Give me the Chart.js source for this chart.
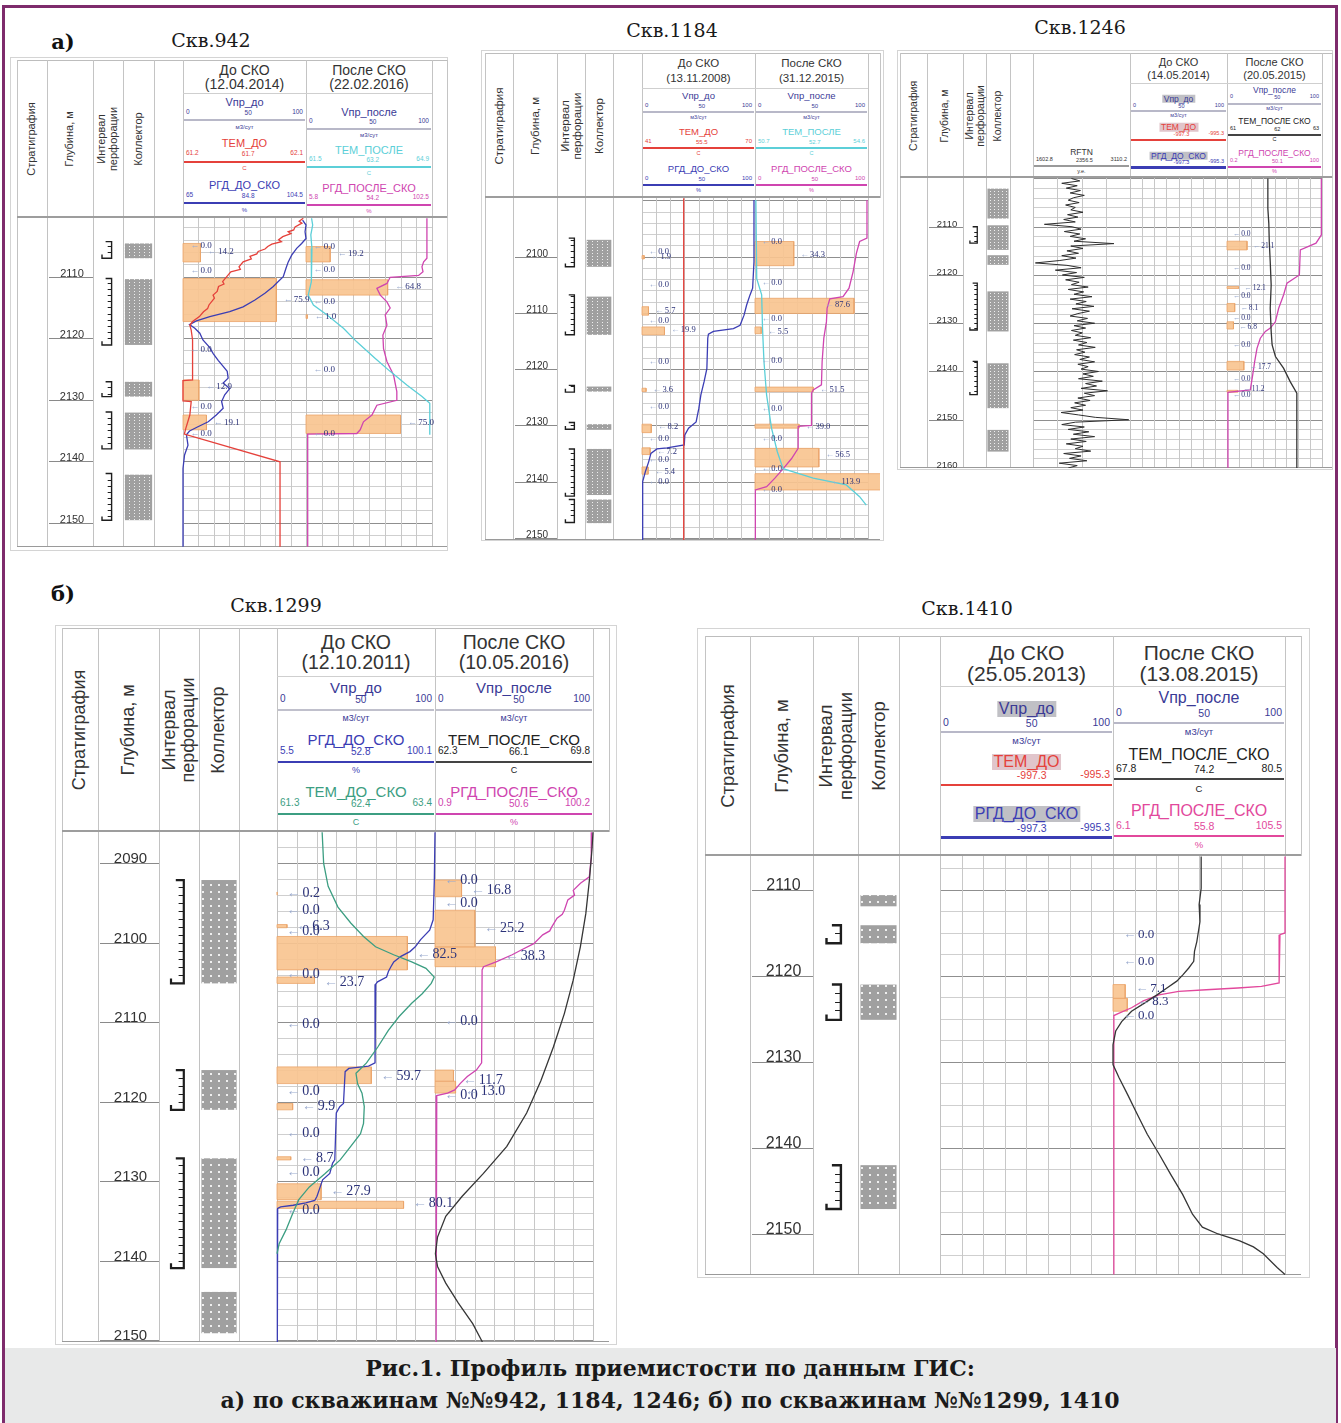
<!DOCTYPE html>
<html lang="ru">
<head>
<meta charset="utf-8">
<title>Профиль приемистости по данным ГИС</title>
<script src="https://cdn.jsdelivr.net/npm/chart.js@4.4.0/dist/chart.umd.min.js"></script>
<style>
html,body{margin:0;padding:0;background:#fff;}
#page{position:relative;width:1341px;height:1423px;overflow:hidden;font-family:"Liberation Sans",Arial,sans-serif;background:#fff;}
</style>
</head>
<body>
<div id="page"></div>
<script>
// ---------- scale ranges (curve header scales) ----------
const vprRange = [0, 100];
const w942TemDoRange = [61.2, 62.1];
const w942RgdDoRange = [65, 104.5];
const w942TemPosleRange = [61.5, 64.9];
const w942RgdPosleRange = [5.8, 102.5];
const w1184TemDoRange = [41, 70];
const w1184RgdDoRange = [0, 100];
const w1184TemPosleRange = [50.7, 54.6];
const w1184RgdPosleRange = [0, 100];
const w1246RftnRange = [1602.8, 3110.2];
const w1246TemPosleRange = [61, 63];
const w1246RgdPosleRange = [0.2, 100];
const w1299RgdDoRange = [5.5, 100.1];
const w1299TemDoRange = [61.3, 63.4];
const w1299TemPosleRange = [62.3, 69.8];
const w1299RgdPosleRange = [0.9, 100.2];
const w1410TemPosleRange = [67.8, 80.5];
const w1410RgdPosleRange = [6.1, 105.5];
const emptyTicks = ['', '-997.3', '-995.3'];

// ---------- Скв.942 ----------
const w942DepthTicks = [2110, 2120, 2130, 2140, 2150];
const w942Perf = [[2104.3,2107.0],[2110.3,2121.1],[2127.1,2129.5],[2132.0,2138.0],[2142.0,2149.6]];
const w942Coll = [[2104.6,2107.0],[2110.4,2121.1],[2127.1,2129.5],[2132.1,2138.1],[2142.2,2149.6]];
const w942TemDo = [[2100.5,62.08],[2101.0,62.05],[2101.3,62.07],[2101.9,62.02],[2102.4,62.01],[2102.7,61.97],[2103.0,61.99],[2103.5,61.93],[2104.0,61.90],[2104.3,61.92],[2104.7,61.85],[2105.1,61.82],[2105.5,61.80],[2105.9,61.75],[2106.3,61.74],[2106.7,61.69],[2107.1,61.70],[2107.6,61.64],[2108.4,61.61],[2108.8,61.62],[2109.2,61.55],[2110.0,61.52],[2110.8,61.49],[2111.2,61.50],[2111.6,61.46],[2112.4,61.45],[2113.0,61.42],[2113.5,61.43],[2114.6,61.39],[2115.2,61.38],[2115.7,61.35],[2116.5,61.32],[2117.3,61.27],[2117.9,61.25],[2118.7,61.26],[2120.3,61.27],[2126.8,61.27],[2126.9,61.20],[2130.2,61.20],[2130.3,61.26],[2132.5,61.25],[2134.7,61.22],[2135.6,61.21],[2140.1,61.91],[2153.9,61.91]];
const w942RgdDo = [[2100.8,103.4],[2101.6,104.5],[2102.7,104.2],[2103.8,104.5],[2104.6,103.1],[2105.4,101.5],[2106.5,99.9],[2107.6,98.8],[2108.6,98.1],[2110.0,97.2],[2110.8,95.6],[2111.6,94.0],[2112.7,91.3],[2113.8,88.1],[2114.9,84.3],[2115.7,80.0],[2116.5,73.6],[2117.2,69.3],[2117.8,67.1],[2118.4,68.8],[2119.2,70.4],[2120.3,71.4],[2121.4,73.4],[2122.5,74.7],[2123.6,76.3],[2124.6,77.9],[2125.4,79.2],[2126.5,79.5],[2127.3,77.9],[2128.2,80.0],[2129.2,78.4],[2130.3,77.4],[2131.4,77.9],[2132.5,75.7],[2133.6,73.1],[2134.4,69.8],[2135.1,67.1],[2135.7,66.1],[2137.4,66.6],[2139.0,65.5],[2141.2,65.0],[2153.9,65.0]];
const w942BarsDo = [[2104.6,2107.6,14.2],[2110.3,2117.3,75.9],[2126.8,2130.1,12.9],[2132.5,2134.9,19.1]];
const w942LabelsDo = [[2105.0,0.0],[2106.0,14.2],[2109.1,0.0],[2113.8,75.9],[2121.9,0.0],[2127.9,12.9],[2131.1,0.0],[2133.8,19.1],[2135.5,0.0]];
const w942TemPosle = [[2100.5,61.65],[2101.6,61.68],[2103.2,61.63],[2105.4,61.66],[2108.1,61.65],[2110.8,61.64],[2113.0,61.56],[2114.6,61.70],[2116.2,62.06],[2118.4,62.51],[2120.6,62.87],[2123.3,63.37],[2125.4,63.77],[2127.6,64.22],[2129.5,64.63],[2130.6,64.84],[2135.7,64.84]];
const w942RgdPosle = [[2100.5,98.6],[2107.0,98.6],[2107.6,96.1],[2108.4,94.8],[2109.2,95.6],[2109.8,92.2],[2110.1,70.4],[2111.1,67.9],[2111.9,60.2],[2113.0,62.8],[2114.1,67.9],[2115.1,70.4],[2116.2,66.6],[2117.9,67.9],[2119.5,64.8],[2121.7,65.3],[2123.8,67.9],[2126.0,73.0],[2128.7,75.5],[2130.1,75.5],[2130.9,60.2],[2132.5,56.4],[2133.6,49.9],[2134.9,47.4],[2135.5,44.8],[2135.6,7.1],[2153.9,7.1]];
const w942BarsPosle = [[2105.1,2107.6,19.2],[2110.5,2113.0,64.8],[2116.2,2116.8,1.0],[2132.5,2135.5,75.0]];
const w942LabelsPosle = [[2105.1,0.0],[2106.2,19.2],[2108.9,0.0],[2111.6,64.8],[2114.1,0.0],[2116.5,1.0],[2125.2,0.0],[2133.8,75.0],[2135.5,0.0]];

// ---------- Скв.1184 ----------
const w1184DepthTicks = [2100, 2110, 2120, 2130, 2140, 2150];
const w1184Perf = [[2096.7,2101.8],[2106.8,2113.9],[2122.9,2124.1],[2129.5,2130.7],[2134.2,2142.6],[2143.2,2147.3]];
const w1184Coll = [[2097.0,2101.8],[2107.1,2113.9],[2123.1,2124.0],[2129.8,2130.8],[2134.2,2142.4],[2143.2,2147.4]];
const w1184TemDo = [[2089.6,51.7],[2150.4,51.7]];
const w1184RgdDo = [[2089.9,99.1],[2100.9,99.1],[2105.6,97.9],[2106.8,95.6],[2108.6,92.6],[2110.4,90.3],[2112.2,86.8],[2112.8,80.9],[2113.3,63.2],[2113.8,58.8],[2114.5,58.2],[2119.9,57.4],[2122.2,55.0],[2124.6,52.1],[2127.0,50.3],[2129.4,47.9],[2130.5,41.2],[2131.7,37.9],[2133.5,37.4],[2134.0,22.1],[2134.2,13.2],[2135.0,7.9],[2136.5,5.9],[2138.3,2.9],[2140.0,0.6],[2150.4,0.6]];
const w1184BarsDo = [[2099.8,2100.4,1.9],[2108.9,2110.4,5.7],[2112.5,2113.9,19.9],[2123.4,2124.0,3.6],[2129.8,2131.3,8.2],[2134.0,2135.2,7.2],[2137.4,2138.7,5.4]];
const w1184LabelsDo = [[2099.2,0.0],[2100.1,1.9],[2105.0,0.0],[2109.7,5.7],[2111.4,0.0],[2113.0,19.9],[2118.7,0.0],[2123.7,3.6],[2126.7,0.0],[2130.2,8.2],[2132.4,0.0],[2134.7,7.2],[2136.2,0.0],[2138.3,5.4],[2140.0,0.0]];
const w1184TemPosle = [[2089.9,50.73],[2103.9,50.76],[2106.8,50.93],[2112.8,50.96],[2118.7,51.01],[2124.6,51.10],[2130.5,51.27],[2134.7,51.47],[2137.7,51.67],[2139.4,52.71],[2140.6,53.85],[2142.7,54.31],[2144.2,54.54]];
const w1184RgdPosle = [[2089.9,99.1],[2096.7,99.1],[2097.3,92.6],[2099.4,89.7],[2102.7,86.8],[2105.6,83.2],[2107.1,77.9],[2107.5,66.2],[2109.2,63.8],[2111.6,63.2],[2114.5,60.9],[2118.7,59.4],[2122.8,58.8],[2123.7,51.5],[2124.3,50.0],[2130.0,50.0],[2130.2,38.2],[2134.1,38.2],[2135.9,32.4],[2137.7,25.0],[2139.4,17.6],[2140.9,10.3],[2141.5,0.3],[2150.4,0.3]];
const w1184BarsPosle = [[2097.3,2101.6,34.3],[2107.4,2110.1,87.6],[2112.5,2113.7,5.5],[2123.2,2124.0,51.5],[2129.8,2130.5,39.0],[2134.1,2137.4,56.5],[2138.6,2141.5,113.9]];
const w1184LabelsPosle = [[2097.3,0.0],[2099.7,34.3],[2104.6,0.0],[2108.6,87.6],[2111.1,0.0],[2113.3,5.5],[2118.6,0.0],[2123.7,51.5],[2127.0,0.0],[2130.2,39.0],[2132.4,0.0],[2135.3,56.5],[2137.8,0.0],[2140.0,113.9],[2141.5,0.0]];

// ---------- Скв.1246 ----------
const w1246DepthTicks = [2110, 2120, 2130, 2140, 2150, 2160];
const w1246Perf = [[2110.0,2113.4],[2121.7,2131.4],[2137.9,2144.8]];
const w1246Coll = [[2102.1,2108.3],[2109.7,2114.8],[2115.9,2117.9],[2123.4,2131.7],[2138.3,2147.6],[2152.1,2156.6]];
const w1246Rftn = [
[2100.0,2200],[2100.5,2330],[2101.0,2050],[2101.5,2290],[2102.0,2120],[2102.5,2340],[2103.0,2180],[2103.5,2400],[2104.0,2230],[2104.5,2150],
[2105.0,2320],[2105.5,2110],[2106.0,2260],[2106.5,2190],[2107.0,2380],[2107.5,2140],[2108.0,2300],[2108.5,2080],[2109.0,2260],[2109.5,1780],
[2110.0,2210],[2110.5,2350],[2111.0,2090],[2111.5,2330],[2112.0,2180],[2112.5,2420],[2113.0,2240],[2113.5,2860],[2114.0,2190],[2114.5,2380],
[2115.0,2130],[2115.5,2310],[2116.0,2050],[2116.5,2270],[2117.0,2020],[2117.5,1640],[2118.0,2130],[2118.5,2350],[2119.0,1950],[2119.5,2280],
[2120.0,2060],[2120.5,2400],[2121.0,2110],[2121.5,2320],[2122.0,2200],[2122.5,2460],[2123.0,2150],[2123.5,2390],[2124.0,2240],[2124.5,2520],
[2125.0,2180],[2125.5,2430],[2126.0,2270],[2126.5,2550],[2127.0,2210],[2127.5,2480],[2128.0,2300],[2128.5,2180],[2129.0,2450],[2129.5,2290],
[2130.0,2560],[2130.5,2240],[2131.0,2420],[2131.5,2200],[2132.0,2370],[2132.5,2260],[2133.0,2500],[2133.5,2230],[2134.0,2440],[2134.5,2310],
[2135.0,2570],[2135.5,2280],[2136.0,2410],[2136.5,2250],[2137.0,2480],[2137.5,2330],[2138.0,2560],[2138.5,2300],[2139.0,2460],[2139.5,2350],
[2140.0,2620],[2140.5,2380],[2141.0,2540],[2141.5,2310],[2142.0,2680],[2142.5,2420],[2143.0,2590],[2143.5,2350],[2144.0,2760],[2144.5,2400],
[2145.0,2560],[2145.5,2300],[2146.0,2490],[2146.5,2250],[2147.0,2420],[2147.5,2190],[2148.0,2380],[2148.5,2040],[2149.0,2310],[2149.5,2570],
[2150.0,3090],[2150.5,2260],[2151.0,2050],[2151.5,2400],[2152.0,2150],[2152.5,2470],[2153.0,2230],[2153.5,2560],[2154.0,2190],[2154.5,2430],
[2155.0,2120],[2155.5,2380],[2156.0,2260],[2156.5,2500],[2157.0,2080],[2157.5,2350],[2158.0,2170],[2158.5,2440],[2159.0,2010],[2159.5,2290],
[2160.0,2150]];
const w1246TemPosle = [[2100.0,61.86],[2106.2,61.86],[2109.3,61.88],[2113.1,61.89],[2117.2,61.91],[2122.1,61.93],[2126.9,61.91],[2131.7,61.93],[2134.5,61.95],[2136.9,62.02],[2139.3,62.19],[2142.1,62.33],[2144.5,62.47],[2160.0,62.47]];
const w1246RgdPosle = [[2100.0,99.3],[2111.7,99.3],[2113.4,93.7],[2114.8,77.2],[2120.0,76.2],[2121.7,63.2],[2124.1,59.7],[2126.9,54.5],[2129.7,51.0],[2131.0,45.7],[2131.7,40.5],[2133.1,35.2],[2135.2,31.7],[2137.9,29.3],[2140.7,27.2],[2143.8,24.7],[2144.3,1.2],[2160.0,1.2]];
const w1246BarsPosle = [[2113.0,2114.8,21.1],[2122.4,2122.8,12.1],[2125.9,2127.6,8.1],[2129.7,2131.2,6.8],[2137.9,2139.7,17.7],[2143.9,2144.3,11.2]];
const w1246LabelsPosle = [[2111.5,0.0],[2114.1,21.1],[2118.6,0.0],[2122.6,12.1],[2124.3,0.0],[2126.9,8.1],[2129.0,0.0],[2130.7,6.8],[2134.5,0.0],[2139.0,17.7],[2141.5,0.0],[2144.9,0.0],[2143.7,11.2]];

// ---------- Скв.1299 ----------
const w1299DepthTicks = [2090, 2100, 2110, 2120, 2130, 2140, 2150];
const w1299Perf = [[2092.1,2105.1],[2116.0,2121.0],[2127.1,2140.9]];
const w1299Coll = [[2092.1,2105.1],[2116.0,2121.0],[2127.1,2140.9],[2143.9,2149.1]];
const w1299RgdDo = [[2086.1,100.1],[2092.1,99.7],[2097.1,99.0],[2098.4,96.9],[2099.6,91.5],[2100.5,88.3],[2101.1,85.1],[2101.7,79.7],[2102.4,75.4],[2103.0,73.7],[2103.6,72.2],[2104.3,71.1],[2104.9,65.7],[2105.2,64.6],[2115.1,64.2],[2115.5,60.3],[2115.8,48.5],[2116.2,46.3],[2120.2,45.3],[2120.6,43.1],[2121.4,41.0],[2127.3,40.1],[2127.7,38.8],[2129.0,37.1],[2129.8,32.8],[2131.1,30.7],[2131.9,29.4],[2132.4,28.1],[2132.7,22.7],[2133.0,15.2],[2133.2,7.7],[2133.4,5.9],[2150.2,5.7]];
const w1299TemDo = [[2086.1,61.90],[2090.0,61.92],[2092.9,61.98],[2095.5,62.11],[2097.5,62.28],[2099.2,62.45],[2100.5,62.61],[2101.5,62.85],[2102.4,63.09],[2103.2,63.28],[2104.3,63.39],[2105.1,63.35],[2106.4,63.23],[2107.6,63.09],[2109.3,62.92],[2111.0,62.78],[2113.1,62.64],[2115.1,62.49],[2116.4,62.35],[2117.7,62.37],[2118.9,62.43],[2120.6,62.46],[2122.7,62.45],[2124.0,62.41],[2125.6,62.28],[2127.3,62.14],[2129.0,61.94],[2130.7,61.73],[2132.3,61.59],[2134.0,61.51],[2136.1,61.42],[2137.8,61.33],[2139.1,61.30]];
const w1299BarsDo = [[2093.6,2094.0,0.2],[2097.7,2098.1,6.3],[2099.2,2103.4,82.5],[2104.3,2105.1,23.7],[2115.6,2117.7,59.7],[2120.2,2121.0,9.9],[2126.9,2127.3,8.7],[2130.3,2132.3,27.9],[2132.5,2133.4,80.1]];
const w1299LabelsDo = [[2093.8,0.2],[2095.9,0.0],[2097.9,6.3],[2098.6,0.0],[2101.5,82.5],[2103.9,0.0],[2105.0,23.7],[2110.3,0.0],[2116.8,59.7],[2118.7,0.0],[2120.6,9.9],[2124.0,0.0],[2127.1,8.7],[2128.8,0.0],[2131.3,27.9],[2132.8,80.1],[2133.6,0.0]];
const w1299TemPosle = [[2086.1,69.80],[2088.3,69.75],[2092.1,69.63],[2096.3,69.46],[2100.5,69.20],[2104.7,68.86],[2108.9,68.44],[2113.1,67.92],[2117.3,67.33],[2121.4,66.65],[2125.6,65.71],[2129.0,64.60],[2131.9,63.58],[2134.4,62.81],[2137.0,62.42],[2139.1,62.32],[2140.7,62.42],[2142.8,62.81],[2145.3,63.41],[2147.9,64.09],[2150.2,64.55]];
const w1299RgdPosle = [[2086.1,99.5],[2089.2,99.1],[2091.7,97.9],[2092.5,92.3],[2093.4,87.8],[2094.0,88.6],[2094.6,84.4],[2095.9,82.2],[2096.4,80.9],[2096.9,77.6],[2098.0,74.3],[2098.5,73.0],[2099.0,68.6],[2100.1,63.0],[2100.9,55.1],[2101.5,49.4],[2102.4,39.3],[2103.0,31.4],[2103.4,30.5],[2115.1,30.2],[2116.0,26.9],[2116.8,21.2],[2117.7,16.7],[2118.5,13.3],[2118.9,8.8],[2119.2,2.0],[2150.2,1.6]];
const w1299BarsPosle = [[2092.1,2094.2,16.8],[2095.9,2100.5,25.2],[2100.5,2103.0,38.3],[2116.0,2117.4,11.7],[2117.4,2118.9,13.0]];
const w1299LabelsPosle = [[2092.1,0.0],[2093.4,16.8],[2095.0,0.0],[2098.2,25.2],[2101.7,38.3],[2109.9,0.0],[2117.3,11.7],[2119.2,0.0],[2118.7,13.0]];

// ---------- Скв.1410 ----------
const w1410DepthTicks = [2110, 2120, 2130, 2140, 2150];
const w1410Perf = [[2114.1,2116.2],[2121.0,2125.1],[2142.0,2147.1]];
const w1410Coll = [[2110.6,2111.9],[2114.1,2116.2],[2121.0,2125.1],[2142.0,2147.1]];
const w1410TemPosle = [[2106.1,74.31],[2109.8,74.31],[2111.7,74.16],[2113.7,74.22],[2114.8,74.11],[2116.0,73.99],[2117.1,73.82],[2118.3,73.76],[2119.1,73.38],[2119.9,72.94],[2120.6,72.51],[2121.4,71.78],[2122.2,71.05],[2123.1,70.18],[2124.1,69.17],[2125.3,68.44],[2126.4,68.00],[2128.0,67.80],[2130.3,67.80],[2131.8,68.24],[2133.8,68.88],[2136.1,69.60],[2138.4,70.33],[2140.7,71.20],[2143.1,72.07],[2145.4,72.94],[2147.7,73.67],[2149.2,74.40],[2150.0,75.56],[2150.8,77.16],[2151.5,78.17],[2152.3,78.90],[2153.9,79.92],[2154.7,80.50]];
const w1410RgdPosle = [[2106.1,105.5],[2115.0,105.5],[2115.2,102.6],[2120.8,102.1],[2121.2,91.9],[2121.4,78.2],[2121.6,60.0],[2121.8,44.1],[2122.2,32.7],[2122.9,23.6],[2123.7,16.8],[2124.3,10.0],[2124.6,6.6],[2154.7,6.6]];
const w1410BarsPosle = [[2121.0,2122.6,7.1],[2122.6,2124.1,8.3]];
const w1410LabelsPosle = [[2115.2,0.0],[2118.3,0.0],[2121.5,7.1],[2123.0,8.3],[2124.6,0.0]];

// ---------- styling ----------
const COL = {
  red:'#e5413b', blue:'#3b3db4', cyan:'#5ccfd8', mag:'#cf45b0', pink:'#e2489c',
  teal:'#3c9e82', black:'#363636', navy:'#3a3a96', bar:'rgba(248,196,144,0.92)',
  barLine:'#eba56a', arrow:'#9babcf', num:'#2c3379', hl:'rgba(140,140,150,0.55)', hlRed:'rgba(200,150,160,0.55)'
};
const SANS = '"Liberation Sans", Arial, sans-serif';
const SERIF = '"Liberation Serif", "Times New Roman", serif';
const fmt = v => String(Math.round(v * 10) / 10);
const tri = r => [fmt(r[0]), fmt((r[0] + r[1]) / 2), fmt(r[1])];
const leftCaptions = ['Стратиграфия', 'Глубина, м', 'Интервал<br>перфорации', 'Коллектор'];

const PANELS = [
  { box:[10,57,448,551], top:60, head:218, bottom:547, cols:[17,47,93,123,154,183,306,432,447],
    depth:[2100.46,2153.96], step:2, ticks:w942DepthTicks, perf:w942Perf, coll:w942Coll, dot:[4.5,3.4], perfLW:1.4,
    fs:{title:14,name:11,tick:6.5,unit:6,cap:11,depth:11,lab:9},
    tracks:[
      { x0:183, x1:306, divs:8, ranges:{v:vprRange, t:w942TemDoRange, r:w942RgdDoRange},
        curves:[{data:w942TemDo, axis:'t', color:COL.red},{data:w942RgdDo, axis:'r', color:COL.blue}],
        bars:w942BarsDo, labels:w942LabelsDo,
        head:{title:['До СКО','(12.04.2014)'], titleH:33, blocks:[
          {name:'Vпр_до', color:COL.navy, ticks:tri(vprRange), unit:'м3/сут', line:'#b8b8c8'},
          {name:'ТЕМ_ДО', color:COL.red, ticks:tri(w942TemDoRange), unit:'С', line:COL.red},
          {name:'РГД_ДО_СКО', color:COL.blue, ticks:tri(w942RgdDoRange), unit:'%', line:COL.blue}]}},
      { x0:306, x1:432, divs:8, ranges:{v:vprRange, t:w942TemPosleRange, r:w942RgdPosleRange},
        curves:[{data:w942TemPosle, axis:'t', color:COL.cyan},{data:w942RgdPosle, axis:'r', color:COL.mag}],
        bars:w942BarsPosle, labels:w942LabelsPosle,
        head:{title:['После СКО','(22.02.2016)'], titleH:33, blocksTop:44, blocks:[
          {name:'Vпр_после', color:COL.navy, ticks:tri(vprRange), unit:'м3/сут', line:'#b8b8c8'},
          {name:'ТЕМ_ПОСЛЕ', color:COL.cyan, ticks:tri(w942TemPosleRange), unit:'С', line:COL.cyan},
          {name:'РГД_ПОСЛЕ_СКО', color:COL.mag, ticks:tri(w942RgdPosleRange), unit:'%', line:COL.mag}]}}
    ]},
  { box:[481,50,884,541], top:53, head:198, bottom:540, cols:[485,513,557,585,613,642,755,868,880],
    depth:[2089.56,2150.4], step:2, ticks:w1184DepthTicks, perf:w1184Perf, coll:w1184Coll, dot:[4.5,3.4], perfLW:1.4,
    fs:{title:11.5,name:9.5,tick:6,unit:5.5,cap:11.5,depth:10,lab:8.5},
    tracks:[
      { x0:642, x1:755, divs:8, ranges:{v:vprRange, t:w1184TemDoRange, r:w1184RgdDoRange},
        curves:[{data:w1184TemDo, axis:'t', color:COL.red},{data:w1184RgdDo, axis:'r', color:COL.blue}],
        bars:w1184BarsDo, labels:w1184LabelsDo,
        head:{title:['До СКО','(13.11.2008)'], titleH:35, blocks:[
          {name:'Vпр_до', color:COL.navy, ticks:tri(vprRange), unit:'м3/сут', line:'#b8b8c8'},
          {name:'ТЕМ_ДО', color:COL.red, ticks:tri(w1184TemDoRange), unit:'С', line:COL.red},
          {name:'РГД_ДО_СКО', color:COL.blue, ticks:tri(w1184RgdDoRange), unit:'%', line:COL.blue}]}},
      { x0:755, x1:868, divs:8, ranges:{v:vprRange, t:w1184TemPosleRange, r:w1184RgdPosleRange},
        curves:[{data:w1184TemPosle, axis:'t', color:COL.cyan},{data:w1184RgdPosle, axis:'r', color:COL.mag}],
        bars:w1184BarsPosle, labels:w1184LabelsPosle,
        head:{title:['После СКО','(31.12.2015)'], titleH:35, blocks:[
          {name:'Vпр_после', color:COL.navy, ticks:tri(vprRange), unit:'м3/сут', line:'#b8b8c8'},
          {name:'ТЕМ_ПОСЛЕ', color:COL.cyan, ticks:tri(w1184TemPosleRange), unit:'С', line:COL.cyan},
          {name:'РГД_ПОСЛЕ_СКО', color:COL.mag, ticks:tri(w1184RgdPosleRange), unit:'%', line:COL.mag}]}}
    ]},
  { box:[897,50,1333,470], top:53, head:178, bottom:468, cols:[900,927,963,986,1010,1033,1130,1227,1322,1332],
    depth:[2099.9,2160.0], step:2, ticks:w1246DepthTicks, perf:w1246Perf, coll:w1246Coll, dot:[4,3], perfLW:1.3,
    fs:{title:11,name:8.5,tick:5.5,unit:5.5,cap:10.5,depth:9.5,lab:7.5},
    tracks:[
      { x0:1033, x1:1130, divs:4, ranges:{v:vprRange, g:w1246RftnRange},
        curves:[{data:w1246Rftn, axis:'g', color:'#2e2e2e', width:1}],
        head:{title:null, titleH:92, blocks:[
          {name:'RFTN', color:'#333', ticks:tri(w1246RftnRange), unit:'у.е.', line:'#9a9a9a'}]}},
      { x0:1130, x1:1227, divs:8, ranges:{v:vprRange},
        head:{title:['До СКО','(14.05.2014)'], titleH:30, blocksTop:40, blocks:[
          {name:'Vпр_до', color:COL.navy, ticks:tri(vprRange), unit:'м3/сут', line:'#b8b8c8', hl:COL.hl},
          {name:'ТЕМ_ДО', color:COL.red, ticks:emptyTicks, unit:'', line:COL.red, hl:COL.hlRed},
          {name:'РГД_ДО_СКО', color:COL.blue, ticks:emptyTicks, unit:'', line:COL.blue, hl:COL.hl, lw:3}]}},
      { x0:1227, x1:1322, divs:8, ranges:{v:vprRange, t:w1246TemPosleRange, r:w1246RgdPosleRange},
        curves:[{data:w1246TemPosle, axis:'t', color:COL.black},{data:w1246RgdPosle, axis:'r', color:COL.mag}],
        bars:w1246BarsPosle, labels:w1246LabelsPosle,
        head:{title:['После СКО','(20.05.2015)'], titleH:30, blocks:[
          {name:'Vпр_после', color:COL.navy, ticks:tri(vprRange), unit:'м3/сут', line:'#b8b8c8'},
          {name:'ТЕМ_ПОСЛЕ СКО', color:'#222', ticks:tri(w1246TemPosleRange), unit:'С', line:'#444'},
          {name:'РГД_ПОСЛЕ_СКО', color:COL.mag, ticks:tri(w1246RgdPosleRange), unit:'%', line:COL.mag}]}}
    ]},
  { box:[55,625,617,1345], top:628, head:832, bottom:1342, cols:[62,98,159,199,239,277,435,593,609],
    depth:[2086.06,2150.2], step:2, ticks:w1299DepthTicks, perf:w1299Perf, coll:w1299Coll, dot:[7.5,6.5], perfLW:2.2,
    fs:{title:19.5,name:15,tick:10,unit:9,cap:18,depth:15,lab:14},
    tracks:[
      { x0:277, x1:435, divs:8, ranges:{v:vprRange, r:w1299RgdDoRange, t:w1299TemDoRange},
        curves:[{data:w1299TemDo, axis:'t', color:COL.teal},{data:w1299RgdDo, axis:'r', color:COL.blue}],
        bars:w1299BarsDo, labels:w1299LabelsDo,
        head:{title:['До СКО','(12.10.2011)'], titleH:48, blocks:[
          {name:'Vпр_до', color:COL.navy, ticks:tri(vprRange), unit:'м3/сут', line:'#c0c0cc'},
          {name:'РГД_ДО_СКО', color:COL.blue, ticks:tri(w1299RgdDoRange), unit:'%', line:COL.blue},
          {name:'ТЕМ_ДО_СКО', color:COL.teal, ticks:tri(w1299TemDoRange), unit:'С', line:COL.teal}]}},
      { x0:435, x1:593, divs:8, ranges:{v:vprRange, t:w1299TemPosleRange, r:w1299RgdPosleRange},
        curves:[{data:w1299TemPosle, axis:'t', color:COL.black},{data:w1299RgdPosle, axis:'r', color:COL.mag}],
        bars:w1299BarsPosle, labels:w1299LabelsPosle,
        head:{title:['После СКО','(10.05.2016)'], titleH:48, blocks:[
          {name:'Vпр_после', color:COL.navy, ticks:tri(vprRange), unit:'м3/сут', line:'#c0c0cc'},
          {name:'ТЕМ_ПОСЛЕ_СКО', color:'#222', ticks:tri(w1299TemPosleRange), unit:'С', line:'#444'},
          {name:'РГД_ПОСЛЕ_СКО', color:COL.mag, ticks:tri(w1299RgdPosleRange), unit:'%', line:COL.mag}]}}
    ]},
  { box:[697,628,1310,1278], top:636, head:856, bottom:1275, cols:[705,750,813,858,899,940,1113,1285,1301],
    depth:[2106.05,2154.77], step:2.5, ticks:w1410DepthTicks, perf:w1410Perf, coll:w1410Coll, dot:[8,7], perfLW:2.4,
    fs:{title:21,name:16,tick:10.5,unit:9.5,cap:18.5,depth:16,lab:13},
    tracks:[
      { x0:940, x1:1113, divs:8, ranges:{v:vprRange},
        head:{title:['До СКО','(25.05.2013)'], titleH:50, blocksTop:62, blocks:[
          {name:'Vпр_до', color:COL.navy, ticks:tri(vprRange), unit:'м3/сут', line:'#b8b8c8', hl:COL.hl},
          {name:'ТЕМ_ДО', color:COL.red, ticks:emptyTicks, unit:'', line:COL.red, hl:COL.hlRed},
          {name:'РГД_ДО_СКО', color:COL.blue, ticks:emptyTicks, unit:'', line:COL.blue, hl:COL.hl, lw:3}]}},
      { x0:1113, x1:1285, divs:8, ranges:{v:vprRange, t:w1410TemPosleRange, r:w1410RgdPosleRange},
        curves:[{data:w1410TemPosle, axis:'t', color:COL.black},{data:w1410RgdPosle, axis:'r', color:COL.pink}],
        bars:w1410BarsPosle, labels:w1410LabelsPosle,
        head:{title:['После СКО','(13.08.2015)'], titleH:50, blocks:[
          {name:'Vпр_после', color:COL.navy, ticks:tri(vprRange), unit:'м3/сут', line:'#b8b8c8'},
          {name:'ТЕМ_ПОСЛЕ_СКО', color:'#222', ticks:tri(w1410TemPosleRange), unit:'С', line:'#444'},
          {name:'РГД_ПОСЛЕ_СКО', color:COL.pink, ticks:tri(w1410RgdPosleRange), unit:'%', line:COL.pink}]}}
    ]}
];

// ---------- DOM helpers ----------
const page = document.getElementById('page');
function add(css, html) {
  const d = document.createElement('div');
  d.style.cssText = 'position:absolute;' + css;
  if (html != null) d.innerHTML = html;
  page.appendChild(d);
  return d;
}
function text(x, y, s, size, color, extra) {
  return add(`left:${x}px;top:${y}px;font-size:${size}px;color:${color};white-space:nowrap;line-height:1;transform:translate(-50%,-50%);${extra || ''}`, s);
}
function hline(x1, x2, y, color, w) {
  w = w || 1;
  add(`left:${Math.round(x1)}px;top:${Math.round(y - w / 2)}px;width:${Math.round(x2 - x1)}px;height:${w}px;background:${color}`);
}
function vline(x, y1, y2, color, w) {
  w = w || 1;
  add(`left:${Math.round(x - w / 2)}px;top:${Math.round(y1)}px;width:${w}px;height:${Math.round(y2 - y1)}px;background:${color}`);
}

// ---------- header of a data track ----------
function trackHeader(P, T) {
  const H = T.head, x0 = T.x0, x1 = T.x1, cx = (x0 + x1) / 2, fs = P.fs;
  if (H.title) {
    text(cx, P.top + H.titleH * 0.31, H.title[0], fs.title, '#333');
    text(cx, P.top + H.titleH * 0.73, H.title[1], fs.title, '#333');
    hline(x0, x1, P.top + H.titleH, '#cfcfcf');
  }
  const y0 = P.top + (H.blocksTop || H.titleH), bh = (P.head - y0) / H.blocks.length;
  H.blocks.forEach((B, i) => {
    const yb = y0 + i * bh;
    const hl = B.hl ? `background:${B.hl};padding:0 2px;` : '';
    text(cx, yb + bh * 0.21, B.name, fs.name, B.color, hl);
    const ty = yb + bh * 0.45;
    if (B.ticks[0]) text(x0 + 3, ty, B.ticks[0], fs.tick, B.color, 'transform:translate(0,-50%)');
    text(cx + (x1 - x0) * 0.03, ty + 1, B.ticks[1], fs.tick, B.color);
    text(x1 - 3, ty, B.ticks[2], fs.tick, B.color, 'transform:translate(-100%,-50%)');
    hline(x0 + 1, x1 - 1, yb + bh * 0.64, B.line, B.lw || 1.5);
    if (B.unit) text(cx, yb + bh * 0.81, B.unit, fs.unit, B.color);
  });
}

// ---------- chart plugins ----------
function gridPlugin(P, L) {
  return {
    id: 'wellGrid',
    beforeDatasetsDraw(chart) {
      const ctx = chart.ctx, ys = chart.scales.y, W = chart.width, H = chart.height;
      ctx.save();
      // track grids
      P.tracks.forEach((T, ti) => {
        const s = chart.scales['v' + ti];
        const xa = s.getPixelForValue(0), xb = s.getPixelForValue(100);
        const d0 = Math.ceil(ys.min / P.step - 1e-9) * P.step;
        for (let d = d0; d <= ys.max + 1e-9; d += P.step) {
          const major = Math.abs(d / 10 - Math.round(d / 10)) < 1e-6;
          const y = Math.round(ys.getPixelForValue(d)) + 0.5;
          ctx.strokeStyle = major ? '#8f8f8f' : '#cfcfcf';
          ctx.lineWidth = 1;
          ctx.beginPath(); ctx.moveTo(xa, y); ctx.lineTo(xb, y); ctx.stroke();
        }
        for (let i = 0; i <= T.divs; i++) {
          const x = Math.round(s.getPixelForValue(100 * i / T.divs)) + 0.5;
          ctx.strokeStyle = (i === 0 || i === T.divs) ? '#a0a0a0' : '#c8c8c8';
          ctx.beginPath(); ctx.moveTo(x, 0); ctx.lineTo(x, H); ctx.stroke();
        }
      });
      // column separators of the left columns and the outer frame
      ctx.strokeStyle = '#c2c2c2';
      P.cols.forEach(cx => {
        const x = Math.round(cx - L) + 0.5;
        ctx.beginPath(); ctx.moveTo(x, 0); ctx.lineTo(x, H); ctx.stroke();
      });
      ctx.strokeStyle = '#9a9a9a';
      ctx.beginPath(); ctx.moveTo(0, H - 0.5); ctx.lineTo(W, H - 0.5); ctx.stroke();
      // depth labels
      const dA = P.cols[1] - L, dB = P.cols[2] - L;
      ctx.font = `${P.fs.depth}px ${SANS}`;
      ctx.textAlign = 'center'; ctx.textBaseline = 'alphabetic';
      P.ticks.forEach(d => {
        const y = Math.round(ys.getPixelForValue(d)) + 0.5;
        ctx.strokeStyle = '#8a8a8a';
        ctx.beginPath(); ctx.moveTo(dA + 2, y); ctx.lineTo(dB, y); ctx.stroke();
        ctx.fillStyle = '#333';
        ctx.fillText(String(d), (dA + dB) / 2 + 2, y - 1);
      });
      // perforation intervals
      const pA = P.cols[2] - L, pw = P.cols[3] - P.cols[2];
      const xr = pA + pw * 0.62, xl = pA + pw * 0.3;
      ctx.strokeStyle = '#1e1e1e';
      P.perf.forEach(([d1, d2]) => {
        const y1 = ys.getPixelForValue(d1), y2 = ys.getPixelForValue(d2);
        ctx.lineWidth = P.perfLW;
        ctx.beginPath();
        ctx.moveTo(xr - pw * 0.2, y1); ctx.lineTo(xr, y1); ctx.lineTo(xr, y2);
        ctx.lineTo(xl, y2); ctx.lineTo(xl, y2 - pw * 0.12);
        ctx.stroke();
        ctx.lineWidth = 1;
        for (let d = Math.floor(d1) + 1; d < d2 - 0.3; d += 1) {
          const y = Math.round(ys.getPixelForValue(d)) + 0.5;
          ctx.beginPath(); ctx.moveTo(xr - pw * 0.13, y); ctx.lineTo(xr, y); ctx.stroke();
        }
      });
      // reservoir (collector) intervals with a dotted fill
      const cA = P.cols[3] - L, cw = P.cols[4] - P.cols[3];
      const pc = document.createElement('canvas');
      pc.width = Math.round(P.dot[0]); pc.height = Math.round(P.dot[1]);
      const g = pc.getContext('2d');
      g.fillStyle = '#a0a0a0'; g.fillRect(0, 0, pc.width, pc.height);
      g.fillStyle = '#efefef';
      const ds = pc.width > 6 ? 2 : 1;
      g.fillRect(Math.floor(pc.width / 2), Math.floor(pc.height / 2), ds, ds);
      ctx.fillStyle = ctx.createPattern(pc, 'repeat');
      P.coll.forEach(([d1, d2]) => {
        const y1 = ys.getPixelForValue(d1), y2 = ys.getPixelForValue(d2);
        ctx.fillRect(cA + cw * 0.06, y1, cw * 0.88, y2 - y1);
      });
      ctx.restore();
    }
  };
}
function labelPlugin(P) {
  return {
    id: 'wellLabels',
    afterDatasetsDraw(chart) {
      const ctx = chart.ctx, ys = chart.scales.y;
      ctx.save();
      ctx.textAlign = 'left'; ctx.textBaseline = 'middle';
      ctx.font = `${P.fs.lab}px ${SERIF}`;
      P.tracks.forEach((T, ti) => {
        if (!T.labels) return;
        const s = chart.scales['v' + ti];
        T.labels.forEach(([d, v]) => {
          const str = v.toFixed(1);
          const aw = ctx.measureText('← ').width * 0.9;
          const tw = aw + ctx.measureText(str).width;
          let x = s.getPixelForValue(v > 100 ? 68 : v + 6);
          // keep a label inside the plot when it would run past the right edge
          if (x + tw > chart.width - 2) x = s.getPixelForValue(v) - tw - 4;
          const y = ys.getPixelForValue(d);
          ctx.fillStyle = COL.arrow;
          ctx.fillText('←', x, y);
          ctx.fillStyle = COL.num;
          ctx.fillText(str, x + aw, y);
        });
      });
      ctx.restore();
    }
  };
}

// ---------- one well panel ----------
function buildPanel(P) {
  const [bx0, by0, bx1, by1] = P.box;
  add(`left:${bx0}px;top:${by0}px;width:${bx1 - bx0}px;height:${by1 - by0}px;border:1px solid #d4d4d4;box-sizing:border-box;background:#fff`);
  const c = P.cols, L = c[0], R = c[c.length - 1];
  hline(L, R, P.top, '#bdbdbd');
  c.forEach(x => vline(x, P.top, P.head, '#c4c4c4'));
  leftCaptions.forEach((s, i) => {
    add(`left:${(c[i] + c[i + 1]) / 2}px;top:${(P.top + P.head) / 2}px;font-size:${P.fs.cap}px;color:#333;white-space:nowrap;line-height:1.08;text-align:center;transform:translate(-50%,-50%) rotate(-90deg)`, s);
  });
  P.tracks.forEach(T => trackHeader(P, T));
  hline(L, R, P.head - 1, '#9d9d9d', 2);

  const W = R - L, H = P.bottom - P.head;
  const cv = document.createElement('canvas');
  cv.width = W; cv.height = H;
  cv.style.cssText = `position:absolute;left:${L}px;top:${P.head}px;width:${W}px;height:${H}px`;
  page.appendChild(cv);

  const scales = { y: { type:'linear', reverse:true, min:P.depth[0], max:P.depth[1], display:false } };
  const datasets = [];
  P.tracks.forEach((T, ti) => {
    const a = T.x0 - L, b = T.x1 - L;
    Object.entries(T.ranges).forEach(([k, r]) => {
      const lo = r[0], hi = r[1];
      scales[k + ti] = { type:'linear', axis:'x', display:false,
        min: lo - (hi - lo) * a / (b - a), max: lo + (hi - lo) * (W - a) / (b - a) };
    });
    (T.bars || []).forEach(([d1, d2, v]) => datasets.push({
      data: [{x:0, y:d1}, {x:v, y:d1}, {x:v, y:d2}, {x:0, y:d2}, {x:0, y:d1}],
      xAxisID: 'v' + ti, yAxisID: 'y', showLine: true, fill: 'shape',
      backgroundColor: COL.bar, borderColor: COL.barLine, borderWidth: 0.8,
      pointRadius: 0, order: 2 }));
    (T.curves || []).forEach(cu => datasets.push({
      data: cu.data.map(([d, v]) => ({x:v, y:d})),
      xAxisID: cu.axis + ti, yAxisID: 'y', showLine: true, fill: false,
      borderColor: cu.color, borderWidth: cu.width || 1.3, pointRadius: 0, order: 1 }));
  });
  new Chart(cv, {
    type: 'scatter',
    data: { datasets },
    options: {
      responsive: false, animation: false, devicePixelRatio: 1, events: [],
      layout: { padding: 0 }, scales,
      plugins: { legend: { display: false }, tooltip: { enabled: false } }
    },
    plugins: [gridPlugin(P, L), labelPlugin(P)]
  });
}

// ---------- page ----------
add('left:2px;top:5px;width:1336px;height:1440px;border:3px solid #7e2b6c;box-sizing:border-box');
text(63, 41, 'а)', 21, '#111', 'font-family:"DejaVu Serif",serif;font-weight:bold');
text(63, 593, 'б)', 21, '#111', 'font-family:"DejaVu Serif",serif;font-weight:bold');
const titleCss = 'font-family:"DejaVu Serif",serif';
text(211, 40, 'Скв.942', 19, '#1a1a1a', titleCss);
text(672, 30, 'Скв.1184', 19, '#1a1a1a', titleCss);
text(1080, 27, 'Скв.1246', 19, '#1a1a1a', titleCss);
text(276, 605, 'Скв.1299', 19, '#1a1a1a', titleCss);
text(967, 608, 'Скв.1410', 19, '#1a1a1a', titleCss);
PANELS.forEach(buildPanel);
add('left:5px;top:1348px;width:1331px;height:80px;background:#e8e9e9');
const capCss = 'font-family:"DejaVu Serif",serif;font-weight:bold';
text(670, 1368, 'Рис.1. Профиль приемистости по данным ГИС:', 22, '#1a1a1a', capCss);
text(670, 1400, 'а) по скважинам №№942, 1184, 1246; б) по скважинам №№1299, 1410', 22, '#1a1a1a', capCss);
</script>
</body>
</html>
